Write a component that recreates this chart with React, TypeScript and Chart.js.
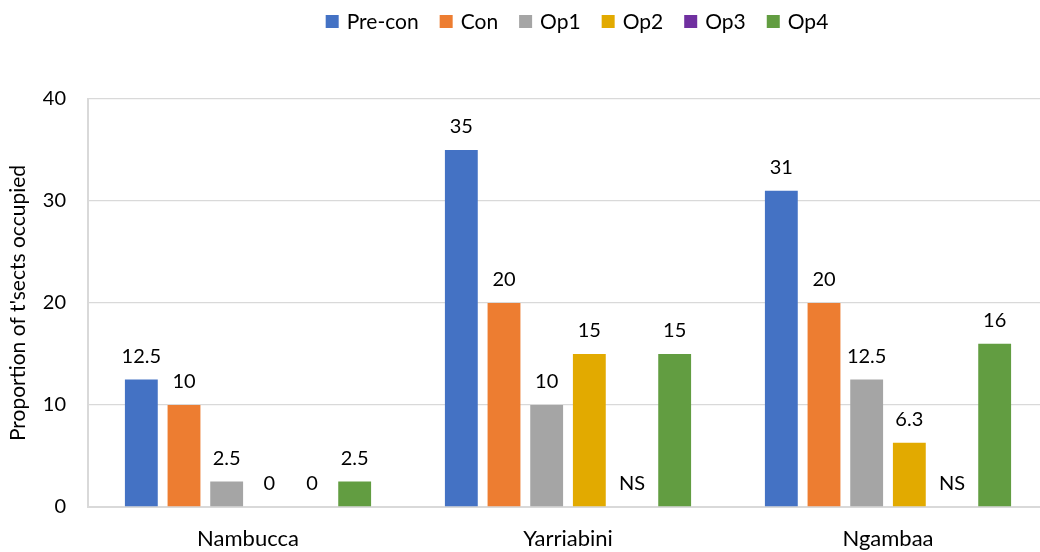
import { useEffect, useRef } from "react";
import { Chart, registerables } from "chart.js";

Chart.register(...registerables);

// Survey sites and treatment phases
const sites = ["Nambucca", "Yarriabini", "Ngambaa"];
const seriesNames = ["Pre-con", "Con", "Op1", "Op2", "Op3", "Op4"];

// Proportion of transects occupied per phase (null = not sampled)
const preCon = [12.5, 35, 31];
const con = [10, 20, 20];
const op1 = [2.5, 10, 12.5];
const op2 = [0, 15, 6.3];
const op3 = [0, null, null];
const op4 = [2.5, 15, 16];

const seriesValues = [preCon, con, op1, op2, op3, op4];
const seriesColors = ["#4472C4", "#ED7D31", "#A5A5A5", "#E2AA00", "#7030A0", "#629D41"];

const yTicks = [0, 10, 20, 30, 40];
const yTitle = "Proportion of t'sects occupied";
const notSampledLabel = "NS";

const FONT = "Lato, 'Noto Sans', sans-serif";
const FONT_SIZE = 20;

// Value labels above each bar; unsampled phases get "NS" at the baseline
const barValueLabels = {
  id: "barValueLabels",
  afterDatasetsDraw(chart: any) {
    const ctx = chart.ctx;
    const yScale = chart.scales.y;
    ctx.save();
    ctx.font = `${FONT_SIZE}px ${FONT}`;
    ctx.fillStyle = "#000";
    ctx.textAlign = "center";
    ctx.textBaseline = "alphabetic";
    chart.data.datasets.forEach((ds: any, di: number) => {
      const meta = chart.getDatasetMeta(di);
      meta.data.forEach((bar: any, i: number) => {
        const v = ds.data[i];
        const text = v == null ? notSampledLabel : String(v);
        const top = yScale.getPixelForValue(v ?? 0);
        ctx.fillText(text, bar.x, top - 17);
      });
    });
    ctx.restore();
  },
};

// Horizontal legend row of square swatches across the top
const squareLegend = {
  id: "squareLegend",
  afterDraw(chart: any) {
    const ctx = chart.ctx;
    const centerX = 577;
    const box = 13;
    const textGap = 8;
    const itemGap = 21;
    ctx.save();
    ctx.font = `21px ${FONT}`;
    const widths = seriesNames.map((n) => box + textGap + ctx.measureText(n).width);
    const total = widths.reduce((a, b) => a + b, 0) + itemGap * (widths.length - 1);
    let x = centerX - total / 2;
    seriesNames.forEach((name, i) => {
      ctx.fillStyle = seriesColors[i];
      ctx.fillRect(x, 15, box, box);
      ctx.fillStyle = "#000";
      ctx.textAlign = "left";
      ctx.textBaseline = "alphabetic";
      ctx.fillText(name, x + box + textGap, 29);
      x += widths[i] + itemGap;
    });
    ctx.restore();
  },
};

export default function App() {
  const canvasRef = useRef<HTMLCanvasElement | null>(null);

  useEffect(() => {
    if (!canvasRef.current) return;
    const chart = new Chart(canvasRef.current, {
      type: "bar",
      data: {
        labels: sites,
        datasets: seriesNames.map((name, i) => ({
          label: name,
          data: seriesValues[i],
          backgroundColor: seriesColors[i],
          borderWidth: 0,
          categoryPercentage: 0.8,
          barPercentage: 0.77,
        })),
      },
      options: {
        responsive: false,
        animation: false,
        devicePixelRatio: 1,
        layout: { padding: { top: 99, right: 102, left: 0, bottom: 0 } },
        plugins: {
          legend: { display: false },
          tooltip: { enabled: false },
        },
        scales: {
          x: {
            grid: { display: false, drawTicks: false },
            border: { display: true, color: "#D9D9D9", width: 2 },
            ticks: {
              color: "#000",
              font: { family: FONT, size: 22 },
              padding: 19,
            },
            afterFit: (s: any) => {
              s.height = 45;
            },
          },
          y: {
            min: 0,
            max: 40,
            afterBuildTicks: (s: any) => {
              s.ticks = yTicks.map((v) => ({ value: v }));
            },
            grid: { color: "#D9D9D9", lineWidth: 1.3, drawTicks: false },
            border: { display: true, color: "#D9D9D9", width: 2 },
            ticks: {
              color: "#000",
              font: { family: FONT, size: FONT_SIZE },
              padding: 22,
            },
            title: {
              display: true,
              text: yTitle,
              color: "#000",
              font: { family: FONT, size: 21 },
              padding: { top: 6, bottom: 0 },
            },
            afterFit: (s: any) => {
              s.width = 88;
            },
          },
        },
      },
      plugins: [barValueLabels, squareLegend],
    });
    return () => chart.destroy();
  }, []);

  return (
    <div
      style={{
        position: "fixed",
        left: 0,
        top: 0,
        width: 1040,
        height: 552,
        overflow: "hidden",
        background: "#fff",
      }}
    >
      <canvas ref={canvasRef} width={1150} height={552} style={{ width: 1150, height: 552, display: "block" }} />
    </div>
  );
}
